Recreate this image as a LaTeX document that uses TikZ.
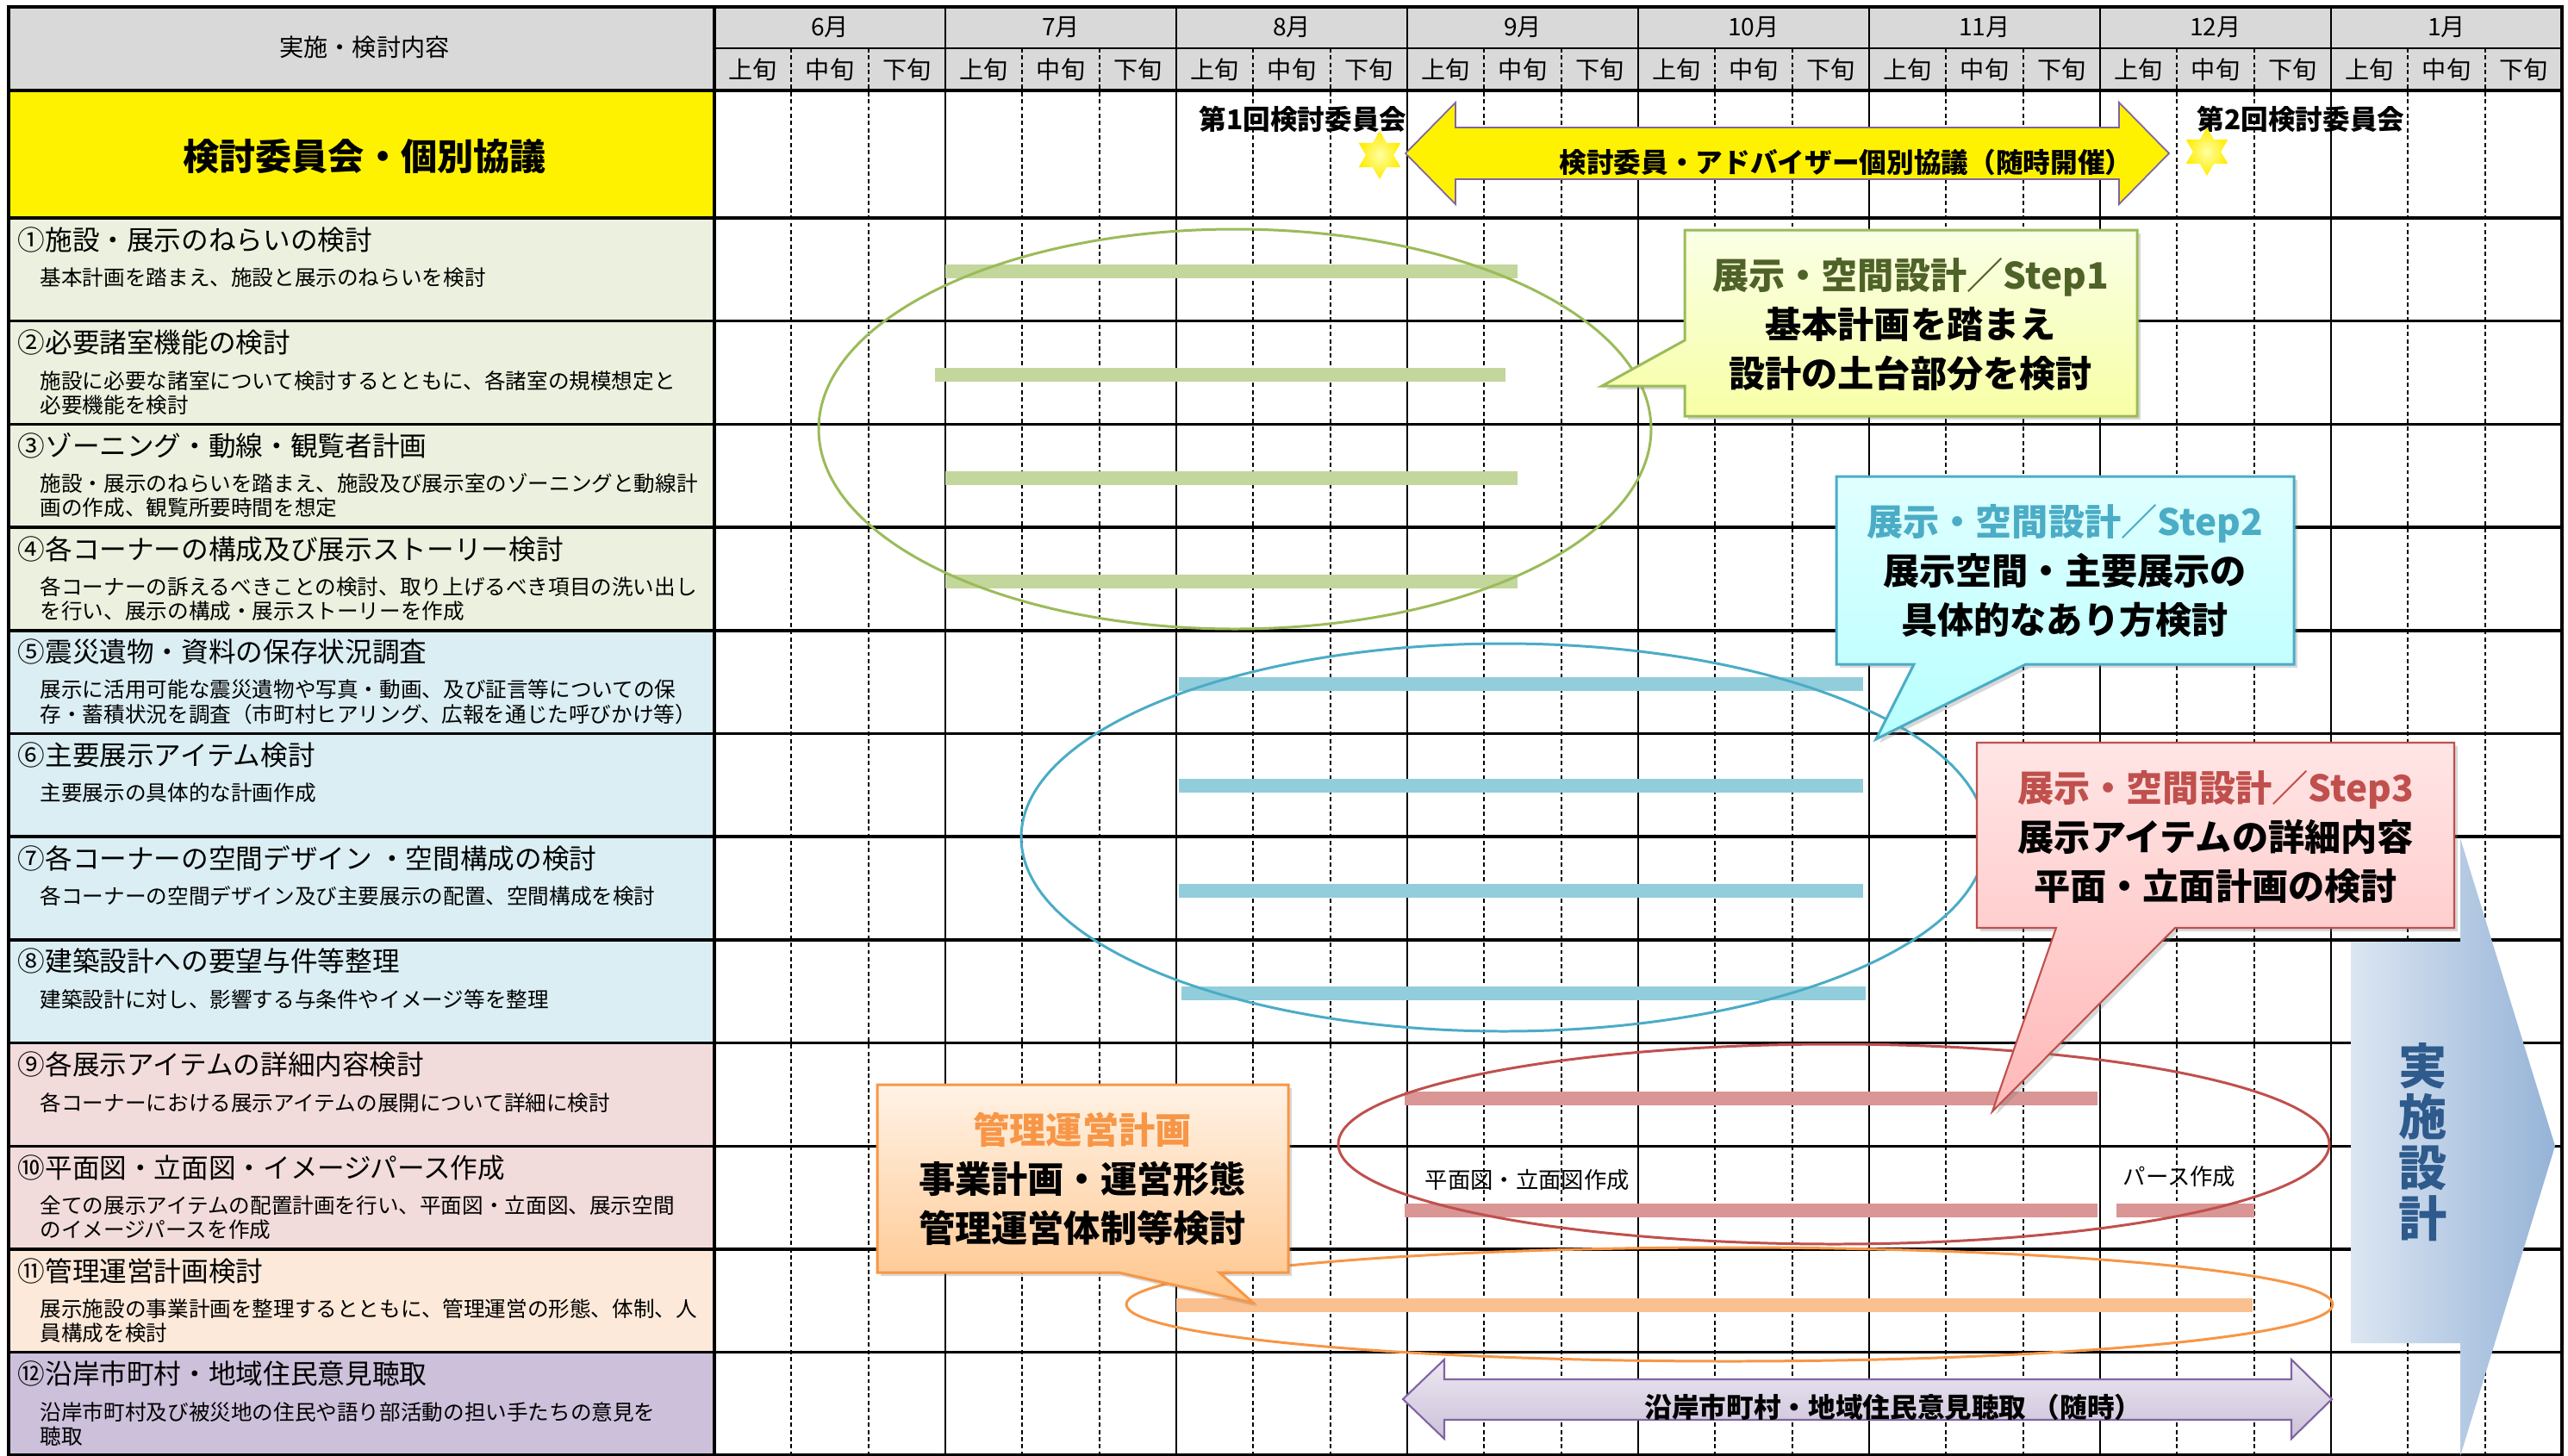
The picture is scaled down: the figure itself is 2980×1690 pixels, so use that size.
\documentclass[tikz,border=0pt]{standalone}
\usepackage{fontspec}
\setmainfont{Noto Sans CJK JP}
\usetikzlibrary{shapes.geometric,shadows}
\definecolor{hdgray}{HTML}{D9D9D9}
\definecolor{rowgreen}{HTML}{EBF1DE}
\definecolor{rowblue}{HTML}{DAEEF3}
\definecolor{rowpink}{HTML}{F2DCDB}
\definecolor{roworange}{HTML}{FDE9D9}
\definecolor{rowpurple}{HTML}{CCC0DA}
\definecolor{bargreen}{HTML}{C3D69B}
\definecolor{barblue}{HTML}{92CDDC}
\definecolor{barpink}{HTML}{D99694}
\definecolor{barorange}{HTML}{FAC090}
\definecolor{ringgreen}{HTML}{9BBB59}
\definecolor{ringblue}{HTML}{4BACC6}
\definecolor{ringred}{HTML}{C0504D}
\definecolor{ringorange}{HTML}{F79646}
\definecolor{olivetxt}{HTML}{4F6228}
\definecolor{navytxt}{HTML}{2E5A8C}
\definecolor{arrowline}{HTML}{8064A2}
\definecolor{finalleft}{HTML}{DCE6F2}
\definecolor{finalright}{HTML}{95B3D7}
\begin{document}
\begin{tikzpicture}[x=0.01cm,y=-0.01cm,
    ttl/.style={anchor=west,inner sep=0pt,font=\fontsize{9}{11}\selectfont},
    dsc/.style={anchor=west,align=left,inner sep=0pt,font=\fontsize{7}{8}\selectfont},
    hd/.style={inner sep=0pt,font=\fontsize{8}{9}\selectfont},
    bar/.style={line width=4.8pt},
    ring/.style={line width=0.85pt},
    mon/.style={line width=0.7pt},
    sub/.style={line width=0.6pt,dash pattern=on 1.4pt off 1pt},
    big/.style={align=center,inner sep=0pt,font=\bfseries\fontsize{12}{16.2}\selectfont},
    mid/.style={inner sep=0pt,font=\bfseries\fontsize{9}{11}\selectfont},
    shd/.style={drop shadow={shadow xshift=1.2pt,shadow yshift=-1.2pt,opacity=0.3}},
    sparkle/.style={star,star points=6,star point ratio=1.73,inner sep=0pt,
      minimum size=0.56cm,inner color=yellow!35!white,outer color=yellow!85!orange},
  ]
  \useasboundingbox (0,0) rectangle (2980,1690);
  \fill[white] (0,0) rectangle (2980,1690);
  \fill[hdgray] (10,8) rectangle (2973,105);
  \fill[yellow] (10,105) rectangle (829,253);
  \foreach \k/\col/\off/\ttl/\dsc in {
    0/rowgreen/69/{①施設・展示のねらいの検討}/{基本計画を踏まえ、施設と展示のねらいを検討},
    1/rowgreen/83/{②必要諸室機能の検討}/{施設に必要な諸室について検討するとともに、各諸室の規模想定と\\必要機能を検討},
    2/rowgreen/83/{③ゾーニング・動線・観覧者計画}/{施設・展示のねらいを踏まえ、施設及び展示室のゾーニングと動線計\\画の作成、観覧所要時間を想定},
    3/rowgreen/83/{④各コーナーの構成及び展示ストーリー検討}/{各コーナーの訴えるべきことの検討、取り上げるべき項目の洗い出し\\を行い、展示の構成・展示ストーリーを作成},
    4/rowblue/83/{⑤震災遺物・資料の保存状況調査}/{展示に活用可能な震災遺物や写真・動画、及び証言等についての保\\存・蓄積状況を調査（市町村ヒアリング、広報を通じた呼びかけ等）},
    5/rowblue/69/{⑥主要展示アイテム検討}/{主要展示の具体的な計画作成},
    6/rowblue/69/{⑦各コーナーの空間デザイン ・空間構成の検討}/{各コーナーの空間デザイン及び主要展示の配置、空間構成を検討},
    7/rowblue/69/{⑧建築設計への要望与件等整理}/{建築設計に対し、影響する与条件やイメージ等を整理},
    8/rowpink/69/{⑨各展示アイテムの詳細内容検討}/{各コーナーにおける展示アイテムの展開について詳細に検討},
    9/rowpink/83/{⑩平面図・立面図・イメージパース作成}/{全ての展示アイテムの配置計画を行い、平面図・立面図、展示空間\\のイメージパースを作成},
    10/roworange/83/{⑪管理運営計画検討}/{展示施設の事業計画を整理するとともに、管理運営の形態、体制、人\\員構成を検討},
    11/rowpurple/83/{⑫沿岸市町村・地域住民意見聴取}/{沿岸市町村及び被災地の住民や語り部活動の担い手たちの意見を\\聴取}} {
    \fill[\col] (10,{253+119.7*\k}) rectangle (829,{372.7+119.7*\k});
    \node[ttl] (ttl\k) at (20,{278+119.7*\k}) {\ttl};
    \node[dsc] (dsc\k) at (46,{253+\off+119.7*\k}) {\dsc};
  }
  \node[hd] (head) at (423,55) {実施・検討内容};
  \node[inner sep=0pt,font=\bfseries\fontsize{12}{14}\selectfont] (meet) at (423,182) {検討委員会・個別協議};
  \foreach \m/\n in {0/6,1/7,2/8,3/9,4/10,5/11,6/12,7/1} {
    \node[hd] (mon\m) at ({963+268*\m},32) {{\n}月};
    \foreach \s/\w in {0/上,1/中,2/下}
      \node[hd] (sub\m\s) at ({873.7+268*\m+89.33*\s},81) {{\w}旬};
  }
  \foreach \m in {0,...,7}
    \foreach \s in {1,2}
      \draw[sub] ({829+268*\m+89.33*\s},56) -- ({829+268*\m+89.33*\s},1689);
  \foreach \m in {1,...,8}
    \draw[mon] ({829+268*\m},8) -- ({829+268*\m},1689);
  \draw[line width=0.8pt] (829,56) -- (2973,56);
  \draw[line width=1pt] (10,105) -- (2973,105);
  \foreach \k in {0,...,11}
    \draw[line width=1pt] (10,{253+119.7*\k}) -- (2973,{253+119.7*\k});
  \draw[line width=1.1pt] (829,8) -- (829,1689);
  \draw[line width=1.3pt] (10,8) rectangle (2973,1689);
  \foreach \y/\a/\b in {315/1097/1761,435/1085/1747,555/1097/1761,675/1097/1761}
    \draw[bar,bargreen] (\a,\y) -- (\b,\y);
  \foreach \y/\a/\b in {794/1368/2162,912/1368/2162,1034/1368/2162,1153/1371/2165}
    \draw[bar,barblue] (\a,\y) -- (\b,\y);
  \foreach \y/\a/\b in {1275/1630/2434,1405/1630/2434,1405/2456/2616}
    \draw[bar,barpink] (\a,\y) -- (\b,\y);
  \draw[bar,barorange] (1365,1515) -- (2614,1515);
  \node[dsc,font=\fontsize{7.5}{9}\selectfont] (plan) at (1653,1370) {平面図・立面図作成};
  \node[dsc,font=\fontsize{7.5}{9}\selectfont] (pers) at (2463,1366) {パース作成};
  \draw[ring,ringgreen] (1433,498) ellipse [x radius=483,y radius=232];
  \draw[ring,ringblue] (1745,972) ellipse [x radius=560,y radius=225];
  \draw[ring,ringred] (2128,1328) ellipse [x radius=575,y radius=116];
  \draw[ring,ringorange] (2007,1514) ellipse [x radius=700,y radius=66];
  \draw[fill=yellow,draw=arrowline,line width=0.5pt] (1631,178) -- (1689,119) -- (1689,148)
    -- (2459,148) -- (2459,119) -- (2517,178) -- (2459,237) -- (2459,208)
    -- (1689,208) -- (1689,237) -- cycle;
  \node[mid] (talk) at (2142,188) {検討委員・アドバイザー個別協議（随時開催）};
  \node[mid] (first) at (1512,138) {第1回検討委員会};
  \node[mid] (second) at (2670,138) {第2回検討委員会};
  \node[sparkle] (star1) at (1601,180) {};
  \node[sparkle] (star2) at (2561,176) {};
  \shadedraw[shd,top color=white!90!lime,bottom color=lime!30!yellow!35!white,draw=ringgreen,line width=0.85pt]
    (1955,267) -- (2480,267) -- (2480,483) -- (1955,483) -- (1955,448) -- (1859,448) -- (1955,395) -- cycle;
  \node[big] (step1) at (2217,377) {\textcolor{olivetxt}{展示・空間設計／Step1}\\基本計画を踏まえ\\設計の土台部分を検討};
  \shadedraw[shd,top color=cyan!12!white,bottom color=cyan!28!white,draw=ringblue,line width=0.85pt]
    (2131,553) -- (2662,553) -- (2662,771) -- (2351,771) -- (2177,858) -- (2221,771) -- (2131,771) -- cycle;
  \node[big] (step2) at (2396,663) {\textcolor{ringblue}{展示・空間設計／Step2}\\展示空間・主要展示の\\具体的なあり方検討};
  \shadedraw[shd,top color=red!10!white,bottom color=red!28!white,draw=ringred,line width=0.6pt]
    (2294,862) -- (2848,862) -- (2848,1077) -- (2524,1077) -- (2312,1290) -- (2386,1077) -- (2294,1077) -- cycle;
  \node[big] (step3) at (2571,972) {\textcolor{ringred}{展示・空間設計／Step3}\\展示アイテムの詳細内容\\平面・立面計画の検討};
  \shadedraw[shd,top color=orange!10!white,bottom color=orange!45!white,draw=ringorange,line width=0.85pt]
    (1018,1259) -- (1495,1259) -- (1495,1477) -- (1415,1477) -- (1454,1512) -- (1298,1477) -- (1018,1477) -- cycle;
  \node[big] (manage) at (1256,1368) {\textcolor{ringorange}{管理運営計画}\\事業計画・運営形態\\管理運営体制等検討};
  \shadedraw[top color=arrowline!15!white,bottom color=arrowline!40!white,draw=arrowline,line width=0.6pt]
    (1628,1624) -- (1676,1578) -- (1676,1601) -- (2659,1601) -- (2659,1578) -- (2706,1624)
    -- (2659,1670) -- (2659,1648) -- (1676,1648) -- (1676,1670) -- cycle;
  \node[mid] (hear) at (2197,1633) {沿岸市町村・地域住民意見聴取 （随時）};
  \shade[left color=finalleft,right color=finalright]
    (2728,1093) -- (2855,1093) -- (2855,973) -- (2965,1330) -- (2855,1690) -- (2855,1559) -- (2728,1559) -- cycle;
  \node[align=center,inner sep=0pt,text=navytxt,font=\bfseries\fontsize{16}{16.8}\selectfont] (final) at (2812,1326) {実\\施\\設\\計};
\end{tikzpicture}
\end{document}
